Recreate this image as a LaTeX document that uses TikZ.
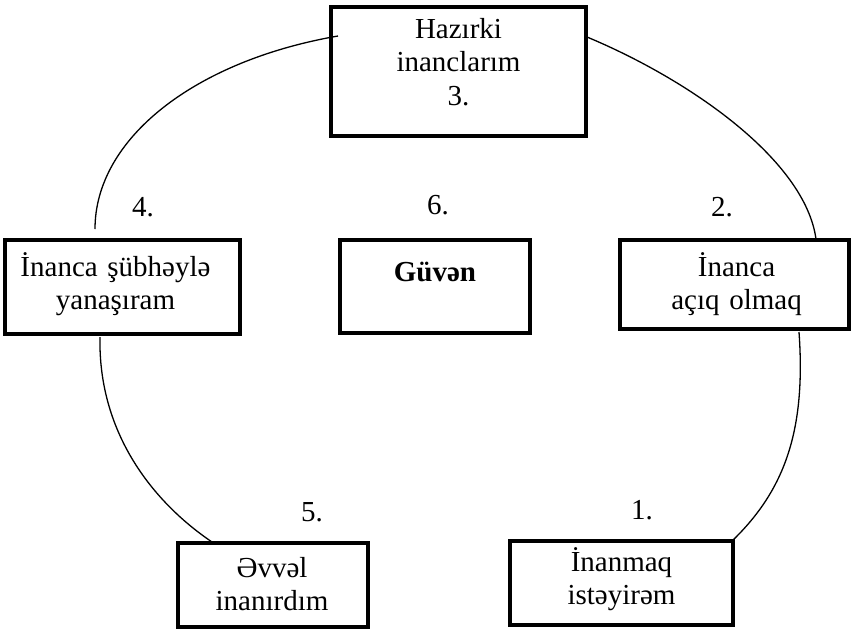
\documentclass[tikz,border=0pt]{standalone}
\usepackage{fontspec}
\setmainfont{Liberation Serif}
\usetikzlibrary{calc}
\begin{document}
\begin{tikzpicture}[x=1pt,y=-1pt,
  box/.style 2 args={draw, line width=3.8pt, inner sep=0pt,
    minimum width=#1pt, minimum height=#2pt},
  txt/.style={font=\fontsize{29}{33.5}\selectfont, align=center,
    text width=250pt, inner sep=0pt, anchor=base},
  num/.style={font=\fontsize{29}{33.5}\selectfont, inner sep=0pt, anchor=base},
  arc/.style={line width=1.3pt}]
\useasboundingbox (0,0) rectangle (851,630);

% boxes
\node[box={255}{129}] (top)   at (458.5,71.5) {};
\node[box={235}{94}]  (left)  at (122.5,287)  {};
\node[box={190}{93}]  (mid)   at (435,286.5)  {};
\node[box={229}{89}]  (right) at (734.5,284.5) {};
\node[box={190}{84}]  (bl)    at (273,585)    {};
\node[box={223}{84}]  (br)    at (621.5,583)  {};

% box texts
\node[txt] (ttop)   at ([yshift=-33pt]top.north)   {Hazırki\\inanclarım\\3.};
\node[txt] (tleft)  at ([xshift=-7pt,yshift=-38pt]left.north) {İnanca şübhəylə\\yanaşıram};
\node[txt, font=\fontsize{29}{33.5}\selectfont\bfseries] (tmid) at ([yshift=-43pt]mid.north) {Güvən};
\node[txt] (tright) at ([xshift=2pt,yshift=-38pt]right.north) {İnanca\\açıq olmaq};
\node[txt] (tbl)    at ([xshift=-1pt,yshift=-36pt]bl.north) {Əvvəl\\inanırdım};
\node[txt] (tbr)    at ([yshift=-32pt]br.north) {İnanmaq\\istəyirəm};

% step numbers
\node[num] (n4) at (143,216) {4.};
\node[num] (n6) at (438,214) {6.};
\node[num] (n2) at (722,216) {2.};
\node[num] (n5) at (312,521) {5.};
\node[num] (n1) at (642,519) {1.};

% connector end points on the box edges
\coordinate (c1a) at (95,229);
\coordinate (c1b) at (338,36);
\coordinate (c2a) at (587,37);
\coordinate (c2b) at (816,239);
\coordinate (c3a) at (799,332);
\coordinate (c3b) at (732,541);
\coordinate (c4a) at (100,337);
\coordinate (c4b) at (212,542);

% curved connectors
\draw[arc] (c1a) .. controls (95,139) and (194,61) .. (c1b);
\draw[arc] (c2a) .. controls (690,80) and (805,160) .. (c2b);
\draw[arc] (c3a) .. controls (806,430) and (785,490) .. (c3b);
\draw[arc] (c4a) .. controls (98,430) and (150,500) .. (c4b);
\end{tikzpicture}
\end{document}
